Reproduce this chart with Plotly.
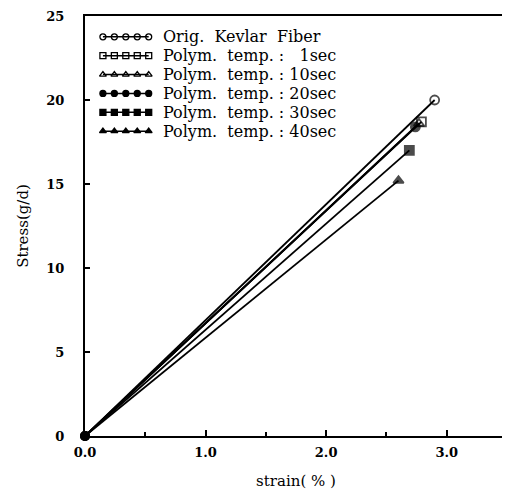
import plotly.graph_objects as go

# end points of each stress-strain curve (all start at the origin)
names = ["Orig.  Kevlar  Fiber", "Polym.  temp. :   1sec", "Polym.  temp. : 10sec",
         "Polym.  temp. : 20sec", "Polym.  temp. : 30sec", "Polym.  temp. : 40sec"]
strain_end = [2.90, 2.79, 2.77, 2.74, 2.69, 2.60]
stress_end = [20.0, 18.7, 18.6, 18.4, 17.0, 15.2]
symbols = ["circle-open", "square-open", "triangle-up-open", "circle", "square", "triangle-up"]

x_ticks = [0, 1, 2, 3]
x_labels = ["0.0", "1.0", "2.0", "3.0"]
y_ticks = [0, 5, 10, 15, 20, 25]
y_labels = ["0", "5", "10", "15", "20", "25"]

serif = "DejaVu Serif"
num_font = dict(family="DejaVu Serif", size=13, color="black", weight="bold")

# plot box size in px, used to place the hand-made legend
plot_w = 424
plot_h = 423
leg_top = 21      # px below top frame for first row
leg_step = 19     # px between rows
leg_x0 = 18       # px from left frame to first sample marker
leg_len = 46      # px length of sample row
leg_text = 76     # px from left frame to text

fig = go.Figure()

for i in range(len(names)):
    fig.add_trace(go.Scatter(
        x=[0, strain_end[i]], y=[0, stress_end[i]],
        mode="lines+markers",
        line=dict(color="black", width=1.8),
        marker=dict(symbol=["circle", symbols[i]], size=[8, 9], color="black",
                    line=dict(color="black", width=1.8)),
        showlegend=False, cliponaxis=False))

# legend drawn by hand: five sample markers per row like the original
for i in range(len(names)):
    yy = 1 - (leg_top + i * leg_step) / plot_h
    xs = [(leg_x0 + k * leg_len / 4) / plot_w for k in range(5)]
    fig.add_trace(go.Scatter(
        x=xs, y=[yy] * 5, xaxis="x2", yaxis="y2",
        mode="lines+markers", showlegend=False, hoverinfo="skip",
        line=dict(color="black", width=1.5),
        marker=dict(symbol=symbols[i], size=6, color="black",
                    line=dict(color="black", width=1.3))))
    fig.add_annotation(
        x=leg_text / plot_w, y=yy, xref="x2", yref="y2",
        text=names[i], showarrow=False, xanchor="left", yanchor="middle",
        font=dict(family=serif, size=16, color="black"))

fig.update_layout(
    width=502, height=492,
    margin=dict(l=77, r=1, t=5, b=64),
    plot_bgcolor="white", paper_bgcolor="white",
    font=dict(family=serif, color="black"),
    showlegend=False,
    xaxis=dict(
        range=[0, 3.5], tickvals=x_ticks, ticktext=x_labels,
        ticks="inside", ticklen=6, tickcolor="black", tickwidth=1.5,
        minor=dict(dtick=0.5, ticks="inside", ticklen=4, tickcolor="black"),
        showline=True, linecolor="black", linewidth=1.5, mirror=True,
        showgrid=False, zeroline=False, ticklabelstandoff=4,
        tickfont=num_font,
        title=dict(text="strain( % )", font=dict(family=serif, size=15), standoff=16)),
    yaxis=dict(
        range=[0, 25], tickvals=y_ticks, ticktext=y_labels,
        ticks="inside", ticklen=5, tickcolor="black", tickwidth=1.5,
        showline=True, linecolor="black", linewidth=2, mirror=True,
        showgrid=False, zeroline=False, ticklabelstandoff=16,
        ticklabeloverflow="allow",
        tickfont=num_font,
        title=dict(text="Stress(g/d)", font=dict(family=serif, size=15), standoff=14)),
    xaxis2=dict(overlaying="x", range=[0, 1], visible=False),
    yaxis2=dict(overlaying="y", range=[0, 1], visible=False),
)

fig.write_html("out.html")
